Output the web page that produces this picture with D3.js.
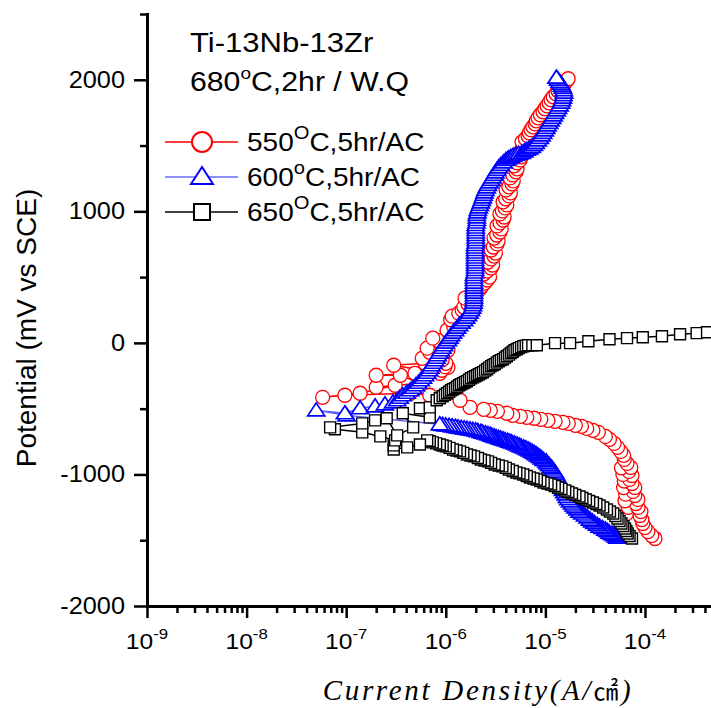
<!DOCTYPE html>
<html>
<head>
<meta charset="utf-8">
<script src="https://cdn.jsdelivr.net/npm/d3@7"></script>
<style>
  body { margin: 0; background: #fff; }
  svg { display: block; }
</style>
</head>
<body>
<svg id="chart" width="711" height="708"></svg>
<script>
// [current density (A/cm2), potential (mV vs SCE)] in scan order
const series550 = [
  [1.26e-4,-1487],[1.17e-4,-1465],[1.07e-4,-1434],[1.0e-4,-1404],[9.5e-5,-1373],[9.3e-5,-1343],[8.9e-5,-1312],[6.5e-5,-1300],
  [9.1e-5,-1282],[6.8e-5,-1250],[8.5e-5,-1251],[8.1e-5,-1221],[6.3e-5,-1200],[8.5e-5,-1190],[7.9e-5,-1160],[6.4e-5,-1150],
  [7.6e-5,-1129],[6.1e-5,-1100],[7.9e-5,-1099],[7.4e-5,-1069],[6.2e-5,-1050],[7.0e-5,-1038],[7.4e-5,-1008],[6.0e-5,-1000],
  [6.9e-5,-977],[5.8e-5,-950],[7.2e-5,-947],[6.6e-5,-916],[6.2e-5,-886],[6.1e-5,-855],[5.7e-5,-825],[5.3e-5,-794],
  [4.9e-5,-764],[4.4e-5,-733],[4.0e-5,-711],[3.4e-5,-680],[3.0e-5,-665],[2.6e-5,-650],[2.3e-5,-634],[2.0e-5,-627],
  [1.7e-5,-612],[1.5e-5,-604],[1.25e-5,-596],[1.06e-5,-589],[9.0e-6,-581],[7.7e-6,-573],[6.5e-6,-566],[5.6e-6,-558],
  [4.7e-6,-551],[4.1e-6,-535],[3.3e-6,-520],[2.8e-6,-513],[2.4e-6,-505],
  [1.75e-6,-490],[1.39e-6,-436],[6.9e-7,-398],[4.4e-7,-383],[9.7e-8,-398],[5.8e-8,-414],[1.38e-7,-383],[3.1e-7,-322],
  [2.0e-7,-337],[5.5e-7,-307],[3.5e-7,-246],[2.0e-7,-246],[4.9e-7,-231],[8.7e-7,-231],[3.0e-7,-170],[6.2e-7,-155],
  [1.05e-6,-185],[5.8e-7,-117],
  [9.1e-7,-208],[9.8e-7,-181],[1.0e-6,-155],[9.2e-7,-128],[8.7e-7,-101],[6.9e-7,-71],[1.05e-6,-56],[6.5e-7,-40],
  [1.0e-6,-20],[9.6e-7,-2],[8.5e-7,17],[7.4e-7,36],[1.16e-6,51],[1.08e-6,74],[1.03e-6,97],[1.2e-6,124],
  [1.27e-6,150],[1.12e-6,176],[1.16e-6,203],[1.35e-6,226],[1.46e-6,249],[1.52e-6,272],[1.67e-6,295],[1.75e-6,318],
  [1.56e-6,340],[1.85e-6,363],[2.0e-6,386],[2.2e-6,409],[2.3e-6,432],[2.45e-6,455],[2.6e-6,478],[2.75e-6,500],
  [2.4e-6,523],[2.6e-6,546],[2.85e-6,569],[2.95e-6,592],[2.65e-6,615],[2.85e-6,638],[3.05e-6,660],[3.15e-6,683],
  [2.85e-6,706],[3.0e-6,729],[3.27e-6,752],[3.35e-6,775],[3.05e-6,797],[3.25e-6,820],[3.5e-6,843],[3.6e-6,866],
  [3.27e-6,889],[3.5e-6,912],[3.76e-6,934],[3.85e-6,957],[3.5e-6,980],[3.7e-6,1003],[3.94e-6,1026],[4.1e-6,1049],
  [3.76e-6,1072],[4.0e-6,1095],[4.32e-6,1117],[4.45e-6,1140],[4.03e-6,1163],[4.3e-6,1186],[4.62e-6,1209],[4.75e-6,1231],
  [4.42e-6,1254],[4.7e-6,1277],[5.07e-6,1300],[5.2e-6,1323],[4.85e-6,1346],[5.2e-6,1369],[5.57e-6,1391],[5.7e-6,1414],
  [5.31e-6,1437],[5.7e-6,1460],[6.1e-6,1483],[6.3e-6,1505],[5.83e-6,1528],[6.3e-6,1551],[6.7e-6,1574],[6.9e-6,1597],
  [7.18e-6,1620],[7.5e-6,1642],[7.87e-6,1665],[8.1e-6,1688],[8.44e-6,1711],[8.9e-6,1734],[9.47e-6,1757],[9.9e-6,1780],
  [1.04e-5,1802],[1.09e-5,1825],[1.14e-5,1848],[1.2e-5,1871],[1.28e-5,1894],[1.34e-5,1916],[1.40e-5,1939],[1.48e-5,1958],
  [1.57e-5,1977],[1.63e-5,1993],[1.69e-5,2008]
]

const series600 = [
  [5.3e-5,-1480],[5.1e-5,-1470],[4.9e-5,-1461],[4.65e-5,-1451],[4.4e-5,-1442],[4.2e-5,-1430],[4.0e-5,-1419],[3.75e-5,-1407],
  [3.5e-5,-1396],[3.3e-5,-1382],[3.1e-5,-1369],[2.95e-5,-1356],[2.8e-5,-1343],[2.65e-5,-1327],[2.5e-5,-1312],[2.35e-5,-1297],
  [2.2e-5,-1282],[2.1e-5,-1266],[2.0e-5,-1251],[1.92e-5,-1236],[1.85e-5,-1221],[1.77e-5,-1204],[1.7e-5,-1187],[1.65e-5,-1170],
  [1.6e-5,-1152],[1.55e-5,-1135],[1.5e-5,-1118],[1.47e-5,-1101],[1.44e-5,-1084],[1.4e-5,-1066],[1.37e-5,-1049],[1.34e-5,-1032],
  [1.31e-5,-1015],[1.28e-5,-1000],[1.25e-5,-985],[1.21e-5,-970],[1.17e-5,-954],[1.13e-5,-941],[1.09e-5,-928],[1.05e-5,-915],
  [1.02e-5,-901],[9.6e-6,-890],[9.2e-6,-878],[8.8e-6,-866],[8.4e-6,-855],[8.05e-6,-845],[7.7e-6,-836],[7.35e-6,-826],
  [7.0e-6,-817],[6.7e-6,-810],[6.4e-6,-802],[6.05e-6,-795],[5.7e-6,-787],[5.45e-6,-780],[5.2e-6,-772],[4.9e-6,-764],
  [4.6e-6,-756],[4.4e-6,-751],[4.2e-6,-745],[3.95e-6,-739],[3.75e-6,-733],[3.55e-6,-727],[3.4e-6,-722],[3.2e-6,-716],
  [3.05e-6,-711],[2.9e-6,-705],[2.8e-6,-699],[2.65e-6,-693],[2.5e-6,-688],[2.35e-6,-682],[2.25e-6,-676],[2.1e-6,-670],
  [2.0e-6,-665],[1.87e-6,-661],[1.75e-6,-657],[1.63e-6,-653],[1.53e-6,-650],[1.43e-6,-646],[1.33e-6,-642],[1.25e-6,-638],
  [1.16e-6,-634],[1.08e-6,-630],[1.0e-6,-627],[9.3e-7,-623],[8.7e-7,-619],
  [1.01e-7,-551],[5.0e-8,-513],[9.7e-8,-535],[1.38e-7,-497],[1.95e-7,-482],[2.45e-7,-467],[2.95e-7,-452],
  [3.25e-7,-436],[3.45e-7,-417],[3.7e-7,-398],[4.05e-7,-379],[4.4e-7,-360],[4.7e-7,-341],[5.0e-7,-322],[5.3e-7,-303],
  [5.6e-7,-284],[5.9e-7,-265],[6.2e-7,-246],[6.5e-7,-227],[6.8e-7,-208],[7.0e-7,-189],[7.2e-7,-170],[7.5e-7,-151],
  [7.8e-7,-132],[8.05e-7,-113],[8.3e-7,-94],[8.6e-7,-75],[8.9e-7,-56],[9.25e-7,-37],[9.6e-7,-18],[1.0e-6,2],
  [1.05e-6,21],[1.09e-6,40],[1.13e-6,59],[1.18e-6,78],[1.24e-6,97],[1.3e-6,116],[1.36e-6,135],[1.44e-6,154],
  [1.53e-6,173],[1.6e-6,192],[1.67e-6,211],[1.73e-6,230],[1.79e-6,249],[1.84e-6,268],[1.88e-6,287],[1.9e-6,306],
  [1.92e-6,325],[1.92e-6,344],[1.92e-6,363],[1.92e-6,382],[1.92e-6,401],[1.92e-6,420],[1.92e-6,439],[1.92e-6,458],
  [1.92e-6,478],[1.92e-6,497],[1.92e-6,516],[1.95e-6,535],[1.97e-6,554],[1.97e-6,573],[1.97e-6,592],[1.97e-6,611],
  [1.97e-6,630],[1.97e-6,649],[1.97e-6,668],[1.97e-6,687],[1.97e-6,706],[1.97e-6,725],[1.97e-6,744],[2.0e-6,763],
  [2.0e-6,782],[2.0e-6,801],[2.0e-6,820],[2.0e-6,839],[2.0e-6,858],[2.0e-6,877],[2.0e-6,896],[2.03e-6,915],
  [2.05e-6,934],[2.05e-6,954],[2.05e-6,973],[2.08e-6,992],[2.1e-6,1011],[2.15e-6,1030],[2.2e-6,1049],[2.25e-6,1068],
  [2.3e-6,1087],[2.35e-6,1106],[2.4e-6,1125],[2.45e-6,1144],[2.5e-6,1163],[2.58e-6,1182],[2.65e-6,1201],[2.75e-6,1220],
  [2.85e-6,1239],[2.95e-6,1258],[3.05e-6,1277],[3.15e-6,1296],[3.27e-6,1315],[3.4e-6,1334],[3.58e-6,1353],[3.8e-6,1372],
  [4.03e-6,1391],[4.25e-6,1403],[4.5e-6,1414],[4.75e-6,1422],[5.06e-6,1430],[5.4e-6,1438],[5.8e-6,1445],[6.15e-6,1456],
  [6.5e-6,1468],[6.9e-6,1479],[7.3e-6,1490],[7.65e-6,1505],[8.0e-6,1521],[8.4e-6,1540],[8.8e-6,1559],[9.15e-6,1578],
  [9.5e-6,1597],[9.85e-6,1616],[1.02e-5,1635],[1.05e-5,1654],[1.09e-5,1673],[1.13e-5,1692],[1.17e-5,1711],[1.21e-5,1730],
  [1.25e-5,1749],[1.3e-5,1768],[1.34e-5,1787],[1.39e-5,1806],[1.44e-5,1826],[1.47e-5,1845],[1.5e-5,1864],[1.52e-5,1883],
  [1.54e-5,1902],[1.53e-5,1921],[1.5e-5,1940],[1.47e-5,1955],[1.44e-5,1970],[1.39e-5,1985],[1.34e-5,2001],[1.29e-5,2016]
]

const series650 = [
  [7.4e-5,-1487],[7.0e-5,-1468],[6.7e-5,-1449],[6.5e-5,-1430],[6.3e-5,-1411],[6.05e-5,-1392],[5.8e-5,-1373],[5.55e-5,-1354],
  [5.3e-5,-1335],[5.05e-5,-1316],[4.8e-5,-1297],[4.45e-5,-1282],[4.15e-5,-1267],[3.8e-5,-1251],[3.5e-5,-1236],[3.25e-5,-1225],
  [3.0e-5,-1213],[2.75e-5,-1202],[2.55e-5,-1190],[2.35e-5,-1179],[2.2e-5,-1168],[2.0e-5,-1156],[1.85e-5,-1145],[1.7e-5,-1133],
  [1.58e-5,-1122],[1.45e-5,-1110],[1.34e-5,-1099],[1.24e-5,-1088],[1.14e-5,-1076],[1.05e-5,-1069],[9.6e-6,-1061],[8.9e-6,-1050],
  [8.2e-6,-1038],[7.6e-6,-1031],[7.0e-6,-1023],[6.5e-6,-1012],[6.0e-6,-1000],[5.5e-6,-992],[5.1e-6,-985],[4.7e-6,-974],
  [4.3e-6,-962],[4.0e-6,-950],[3.7e-6,-939],[3.4e-6,-932],[3.1e-6,-924],[2.85e-6,-912],[2.65e-6,-901],[2.45e-6,-894],
  [2.25e-6,-886],[2.1e-6,-875],[1.92e-6,-863],[1.77e-6,-856],[1.63e-6,-848],[1.5e-6,-836],[1.39e-6,-825],[1.28e-6,-818],
  [1.18e-6,-810],[1.09e-6,-798],[1.0e-6,-787],[9.3e-7,-780],[8.7e-7,-772],[8.0e-7,-764],[7.4e-7,-756],[6.9e-7,-748],
  [6.5e-7,-741],
  [5.5e-7,-772],[4.1e-7,-794],[3.0e-7,-810],[3.0e-7,-779],[3.1e-7,-741],[2.2e-7,-711],[1.45e-7,-680],[7.7e-8,-657],
  [6.9e-8,-642],[1.45e-7,-612],[1.95e-7,-589],[2.55e-7,-573],[3.25e-7,-703],[4.7e-7,-642],[3.7e-7,-535],[6.9e-7,-566],
  [5.5e-7,-497],[6.9e-7,-490],
  [8.1e-7,-436],[8.7e-7,-421],[9.3e-7,-406],[9.8e-7,-394],[1.03e-6,-383],[1.08e-6,-371],[1.13e-6,-360],[1.18e-6,-352],
  [1.24e-6,-345],[1.3e-6,-333],[1.36e-6,-322],[1.42e-6,-314],[1.49e-6,-307],[1.56e-6,-299],[1.63e-6,-292],[1.71e-6,-280],
  [1.79e-6,-269],[1.88e-6,-261],[1.97e-6,-254],[2.06e-6,-246],[2.15e-6,-238],[2.25e-6,-231],[2.36e-6,-223],[2.48e-6,-211],
  [2.6e-6,-200],[2.72e-6,-188],[2.85e-6,-177],[2.97e-6,-169],[3.1e-6,-162],[3.25e-6,-150],[3.4e-6,-139],[3.57e-6,-131],
  [3.75e-6,-124],[3.92e-6,-112],[4.1e-6,-101],[4.3e-6,-89],[4.5e-6,-78],[4.7e-6,-67],[4.9e-6,-56],[5.15e-6,-48],
  [5.4e-6,-40],[5.7e-6,-32],[6.0e-6,-25],[6.35e-6,-21],[6.7e-6,-18],[7.4e-6,-18],[8.2e-6,-18],
  [1.25e-5,-2],[1.77e-5,-2],[2.7e-5,13],[4.4e-5,28],[6.6e-5,36],[9.5e-5,43],[1.48e-4,51],[2.25e-4,66],
  [3.3e-4,74],[4.2e-4,81]
]

const legendTemps = ['550', '600', '650']
const legendDegree = ['O', 'o', 'O']
const legendSuffix = 'C,5hr/AC'
const titleLine1 = 'Ti-13Nb-13Zr'
const yMajor = [-2000, -1000, 0, 1000, 2000]
const yMinor = [-1500, -500, 500, 1500, 2500]
const xMajorExp = [-9, -8, -7, -6, -5, -4]

const svg = d3.select('#chart')
const font = '"Liberation Sans", Arial, sans-serif'

const x = d3.scaleLog().domain([1e-9, 4.6e-4]).range([147, 711])
const y = d3.scaleLinear().domain([-2000, 2500]).range([606, 14])

// stretched text, the picture's lettering is a bit wide
const stretchText = (px, py, size, sx, anchor) => svg.append('text')
  .attr('transform', `translate(${px},${py}) scale(${sx},1)`)
  .attr('font-family', font)
  .attr('font-size', size)
  .attr('text-anchor', anchor || 'start')
  .attr('fill', '#000')

// ---- series
const markerPath = {
  circle: 'M7,0A7,7 0 1 1 -7,0A7,7 0 1 1 7,0Z',
  triangle: 'M0,-7.5L8.5,5.5L-8.5,5.5Z',
  square: 'M-5.5,-5.5H5.5V5.5H-5.5Z'
}

const drawSeries = (data, lineColor, markColor, shape, sw) => {
  const g = svg.append('g')
  g.append('path')
    .datum(data)
    .attr('d', d3.line().x(d => x(d[0])).y(d => y(d[1])))
    .attr('fill', 'none')
    .attr('stroke', lineColor)
    .attr('stroke-width', 1.5)
  g.selectAll('path.mk')
    .data(data)
    .join('path')
    .attr('class', 'mk')
    .attr('d', markerPath[shape])
    .attr('transform', d => `translate(${x(d[0])},${y(d[1])})`)
    .attr('fill', '#fff')
    .attr('stroke', markColor)
    .attr('stroke-width', sw)
}

drawSeries(series550, '#ff0000', '#ff0000', 'circle', 1.3)
drawSeries(series600, '#5a5aff', '#0000ff', 'triangle', 1.7)
drawSeries(series650, '#000', '#000', 'square', 1.4)

// ---- axes
svg.append('g')
  .attr('transform', 'translate(147,0)')
  .call(d3.axisLeft(y).tickValues(yMajor).tickSize(13).tickSizeOuter(0).tickFormat(''))
svg.append('g')
  .attr('transform', 'translate(147,0)')
  .call(d3.axisLeft(y).tickValues(yMinor).tickSize(7).tickSizeOuter(0).tickFormat(''))

const xMinorVals = x.ticks().filter(v => Math.abs(Math.log10(v) - Math.round(Math.log10(v))) > 1e-6)
svg.append('g')
  .attr('transform', 'translate(0,606)')
  .call(d3.axisBottom(x).tickValues(xMajorExp.map(e => Math.pow(10, e))).tickSize(12).tickSizeOuter(0).tickFormat(''))
svg.append('g')
  .attr('transform', 'translate(0,606)')
  .call(d3.axisBottom(x).tickValues(xMinorVals).tickSize(7).tickSizeOuter(0).tickFormat(''))

svg.selectAll('.domain').attr('stroke', '#000').attr('stroke-width', 3).attr('stroke-linecap', 'square')
svg.selectAll('.tick line').attr('stroke', '#000').attr('stroke-width', 2.5)

yMajor.forEach(v => {
  stretchText(125, y(v) + 8, 23, 1.1, 'end').text(v)
})

xMajorExp.forEach(e => {
  const t = stretchText(x(Math.pow(10, e)), 649, 22, 1.12, 'middle')
  t.append('tspan').text('10')
  t.append('tspan').attr('dy', -10).attr('font-size', 15).text(e)
})

// axis titles
svg.append('text')
  .attr('transform', 'translate(36,328) rotate(-90)')
  .attr('font-family', font)
  .attr('font-size', 28)
  .attr('text-anchor', 'middle')
  .text('Potential (mV vs SCE)')

const xt = svg.append('text')
  .attr('x', 478).attr('y', 700)
  .attr('font-family', '"Liberation Serif", "Times New Roman", serif')
  .attr('font-style', 'italic')
  .attr('font-size', 29)
  .attr('letter-spacing', 2.7)
  .attr('text-anchor', 'middle')
xt.append('tspan').text('Current Density(A/')
xt.append('tspan').attr('font-family', '"Noto Sans CJK KR", sans-serif').attr('font-style', 'normal').attr('font-size', 25).text('㎠')
xt.append('tspan').text(')')

// ---- title block
stretchText(190, 52, 27, 1.15).text(titleLine1)
const t2 = stretchText(190, 91, 27, 1.12)
t2.append('tspan').text('680')
t2.append('tspan').attr('dy', -12).attr('font-size', 17).text('o')
t2.append('tspan').attr('dy', 12).text('C,2hr / W.Q')

// ---- legend
const legendRows = [
  { y: 142, line: '#ff0000', mark: '#ff0000', d: 'M10,0A10,10 0 1 1 -10,0A10,10 0 1 1 10,0Z' },
  { y: 177, line: '#6a6aff', mark: '#0000ff', d: 'M0,-10L11,7L-11,7Z' },
  { y: 212, line: '#000', mark: '#000', d: 'M-8,-8H8V8H-8Z' }
]
legendRows.forEach((r, i) => {
  svg.append('line').attr('x1', 165).attr('x2', 238).attr('y1', r.y).attr('y2', r.y)
    .attr('stroke', r.line).attr('stroke-width', 1.5)
  svg.append('path').attr('d', r.d).attr('transform', `translate(202,${r.y})`)
    .attr('fill', '#fff').attr('stroke', r.mark).attr('stroke-width', 2)
  const t = stretchText(247, r.y + 9, 25, 1.12)
  t.append('tspan').text(legendTemps[i])
  t.append('tspan').attr('dy', -12).attr('font-size', 18).text(legendDegree[i])
  t.append('tspan').attr('dy', 12).text(legendSuffix)
})
</script>
</body>
</html>
